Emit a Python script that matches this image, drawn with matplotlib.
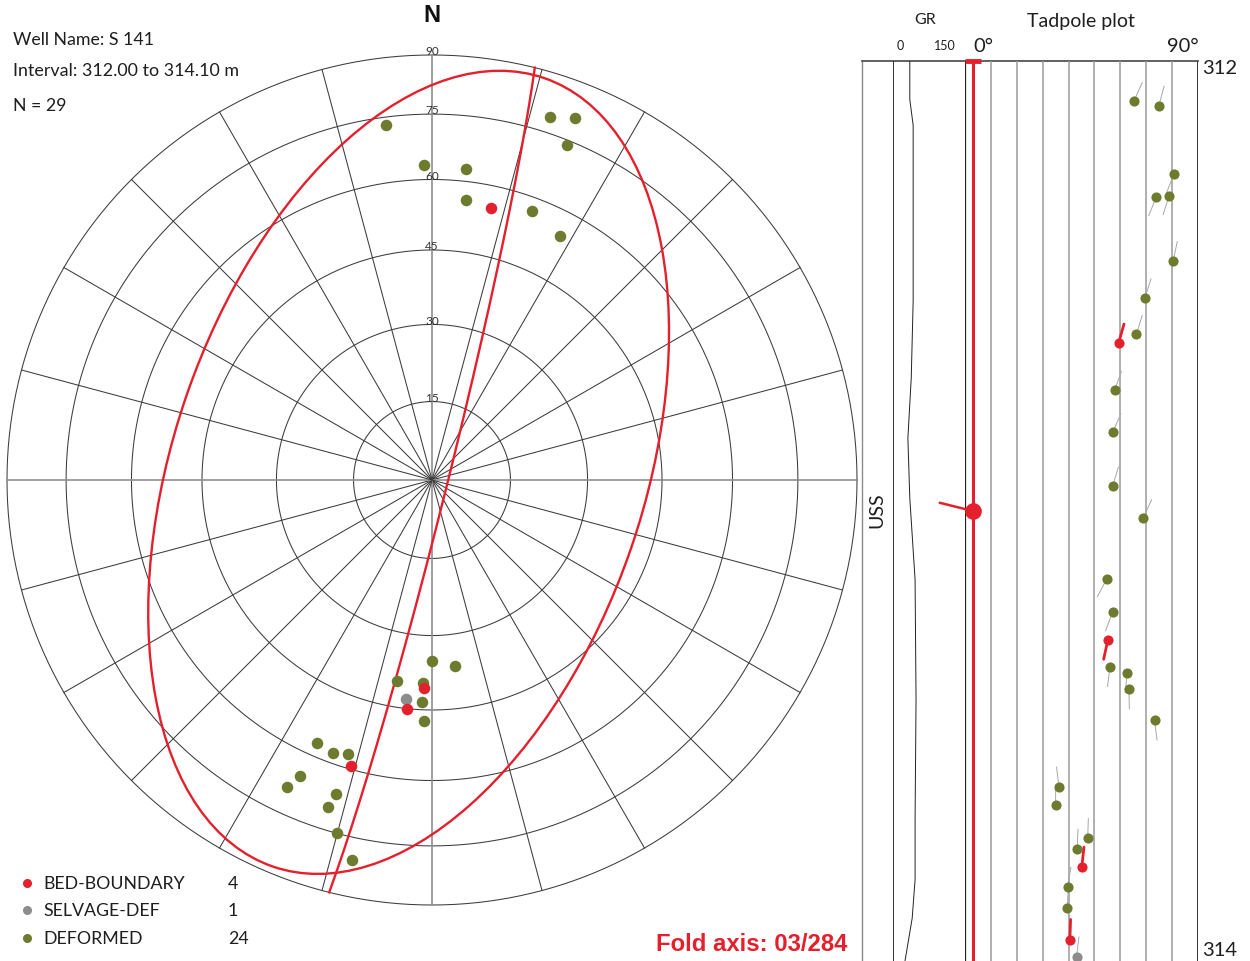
import numpy as np
import matplotlib
matplotlib.use("Agg")
import matplotlib.pyplot as plt
from matplotlib.patches import Ellipse

# ---------------- data ----------------
well_name = "S 141"
interval_top = 312.00
interval_base = 314.10
fold_plunge = 3
fold_trend = 284

feature_types = ["BED-BOUNDARY", "SELVAGE-DEF", "DEFORMED"]

# measured depth (m), dip (deg), dip azimuth (deg), feature type index
depth = [312.093, 312.104, 312.264, 312.314, 312.317, 312.467, 312.553, 312.638,
         312.659, 312.768, 312.866, 312.992, 313.066, 313.209, 313.286, 313.350,
         313.413, 313.427, 313.465, 313.538, 313.694, 313.736, 313.814, 313.839,
         313.881, 313.927, 313.977, 314.050, 314.090]
dip = [65.3, 74.9, 80.7, 78.9, 73.9, 80.4, 69.5, 66.2,
       59.3, 57.8, 57.1, 57.0, 68.8, 54.7, 57.0, 55.2,
       56.0, 62.7, 63.3, 73.2, 36.3, 35.0, 47.4, 43.3,
       45.1, 39.6, 39.5, 40.5, 43.1]
dip_azimuth = [24.0, 15.0, 201.5, 198.0, 201.9, 11.9, 17.6, 17.0,
               15.8, 19.9, 23.6, 17.0, 25.2, 207.7, 200.4, 192.2,
               186.9, 186.2, 178.6, 172.7, 353.0, 0.0, 1.8, 2.6,
               6.3, 9.8, 2.6, 2.1, 6.8]
feature = [2, 2, 2, 2, 2, 2, 2, 2,
           0, 2, 2, 2, 2, 2, 2, 0,
           2, 2, 2, 2, 2, 2, 2, 2,
           0, 2, 2, 0, 1]

# gamma-ray log (API) read along the track
gr_depth = [312.00, 312.09, 312.15, 312.32, 312.56, 312.74, 312.88, 313.02,
            313.21, 313.49, 313.77, 313.91, 314.00, 314.10]
gr_value = [35, 35, 42, 42, 42, 38, 31, 35, 46, 48, 46, 46, 40, 25]

# cone/ellipse drawn on the net (projected net units)
ellipse_center = (-0.055, 0.018)
ellipse_semi_axes = (0.981, 0.553)
ellipse_angle = 71.0

# ---------------- style ----------------
RED = "#e3202c"
GREEN = "#6c7b2d"
GREY = "#8c8c8c"
type_colors = [RED, GREY, GREEN]
TXT = "#1e1e1e"
FONT = ["Lato", "DejaVu Sans"]
BOLD = ["Liberation Sans", "DejaVu Sans"]

W, H = 1250, 962
fig = plt.figure(figsize=(W / 100, H / 100), dpi=100)
fig.patch.set_facecolor("white")


def box(x0, y0, x1, y1):
    return [x0 / W, 1 - y1 / H, (x1 - x0) / W, (y1 - y0) / H]


def ftext(x, y, s, **kw):
    kw.setdefault("family", FONT)
    kw.setdefault("color", TXT)
    kw.setdefault("va", "center")
    fig.text(x / W, 1 - y / H, s, **kw)


def ea_r(d):
    return np.sqrt(2) * np.sin(np.radians(np.asarray(d, float)) / 2)


depth = np.array(depth)
dip = np.array(dip)
dip_azimuth = np.array(dip_azimuth)
feature = np.array(feature)

# ---------------- stereonet ----------------
cx, cy, R = 432, 481, 425
pad = 1.08
ax = fig.add_axes(box(cx - R * pad, cy - R * pad, cx + R * pad, cy + R * pad))
ax.set_xlim(-pad, pad)
ax.set_ylim(-pad, pad)
ax.axis("off")

th = np.linspace(0, 2 * np.pi, 721)
for d in range(15, 91, 15):
    r = ea_r(d)
    ax.plot(r * np.cos(th), r * np.sin(th), color="#3c3c3c", lw=0.75, zorder=1)
for az in range(0, 360, 15):
    a = np.radians(az)
    if az % 90 == 0:
        ax.plot([0, np.sin(a)], [0, np.cos(a)], color="#8f8f8f", lw=1.2, zorder=1)
    else:
        ax.plot([0, np.sin(a)], [0, np.cos(a)], color="#3c3c3c", lw=0.75, zorder=1)
for d in range(15, 91, 15):
    ax.text(0, ea_r(d) + 0.002, str(d), ha="center", va="baseline", fontsize=8.5,
            color="#333333", family=FONT, zorder=2)

# profile plane (great circle normal to fold axis)
dd = np.radians(fold_trend - 180)
dp = np.radians(90 - fold_plunge)
s = dd - np.pi / 2
t = np.linspace(0, np.pi, 400)
sv = np.array([np.sin(s), np.cos(s), 0.0])
dv = np.array([np.cos(dp) * np.sin(dd), np.cos(dp) * np.cos(dd), np.sin(dp)])
v = np.outer(np.cos(t), sv) + np.outer(np.sin(t), dv)
gx = v[:, 0] / np.sqrt(1 + v[:, 2])
gy = v[:, 1] / np.sqrt(1 + v[:, 2])
ax.plot(gx, gy, color=RED, lw=1.7, zorder=3)

ax.add_patch(Ellipse(ellipse_center, 2 * ellipse_semi_axes[0], 2 * ellipse_semi_axes[1],
                     angle=ellipse_angle, fill=False, ec=RED, lw=1.7, zorder=3))

# poles (lower hemisphere, equal area)
ptrend = np.radians(dip_azimuth + 180)
pr = ea_r(dip)
px = pr * np.sin(ptrend)
py = pr * np.cos(ptrend)
for k in [2, 1, 0]:
    m = feature == k
    ax.plot(px[m], py[m], "o", ms=8.3, color=type_colors[k], mec="none", zorder=4 + (2 - k))

# ---------------- header texts ----------------
ftext(432, 15, "N", ha="center", fontsize=17, fontweight="bold", family=BOLD, color="#111111")
ftext(13, 40, f"Well Name: {well_name}", ha="left", fontsize=12.8)
ftext(13, 71, f"Interval: {interval_top:.2f} to {interval_base:.2f} m", ha="left", fontsize=12.9)
ftext(13, 106, f"N = {len(depth)}", ha="left", fontsize=12.8)

# legend
ov = fig.add_axes([0, 0, 1, 1])
ov.set_xlim(0, W)
ov.set_ylim(H, 0)
ov.axis("off")
leg_y = [884, 911, 939]
for k, name in enumerate(feature_types):
    ov.plot(27, leg_y[k], "o", ms=6.5, color=type_colors[k], mec="none")
    ftext(43, leg_y[k], name, ha="left", fontsize=12.8)
    ftext(228, leg_y[k], str(int((feature == k).sum())), ha="left", fontsize=12.8)

ftext(752, 945, f"Fold axis: {fold_plunge:02d}/{fold_trend}", ha="center", fontsize=17.2,
      fontweight="bold", family=BOLD, color=RED)

# ---------------- log tracks ----------------
top_px, bot_px = 62, 962
ov.plot([862, 862], [top_px, bot_px], color="#8a8a8a", lw=1.0)
ov.plot([862, 1198], [top_px, top_px], color="#555555", lw=1.3)

# GR track
gr = fig.add_axes(box(893, top_px, 965, bot_px))
gr.set_xlim(0, 150)
gr.set_ylim(interval_base, interval_top)
gr.axis("off")
gr.axvline(0, color="#222222", lw=1.3)
gr.plot(gr_value, gr_depth, color="#222222", lw=0.7)

# tadpole track
tp = fig.add_axes(box(965, top_px, 1198, bot_px))
tp.set_xlim(0, 90)
tp.set_ylim(interval_base, interval_top)
tp.axis("off")
for d in range(10, 90, 10):
    tp.axvline(d, color="#9a9a9a", lw=1.1, zorder=1)
tp.axvline(0, color="#222222", lw=1.6, zorder=1)
tp.axvline(90, color="#333333", lw=1.4, zorder=1)

# fold axis line and symbol
tp.axvline(fold_plunge, color=RED, lw=2.2, zorder=2)
tp.plot([0, 6], [interval_top, interval_top], color=RED, lw=3.5, solid_capstyle="butt",
        clip_on=False, zorder=3)
mid = (interval_top + interval_base) / 2
fa = np.radians(fold_trend)
tp.annotate("", xy=(fold_plunge, mid), xytext=(24.5 * np.sin(fa), 24.5 * np.cos(fa)),
            textcoords="offset points",
            arrowprops=dict(arrowstyle="-", color=RED, lw=1.8, shrinkA=0, shrinkB=0), zorder=3)
tp.plot(fold_plunge, mid, "o", ms=12, color=RED, mec="none", zorder=4)

L = 14.5
for i in range(len(depth)):
    k = feature[i]
    a = np.radians(dip_azimuth[i])
    if k == 0:
        tc, tlw = RED, 2.0
    else:
        tc, tlw = "#a8a8a8", 0.7
    tp.annotate("", xy=(dip[i], depth[i]), xytext=(L * np.sin(a), L * np.cos(a)),
                textcoords="offset points",
                arrowprops=dict(arrowstyle="-", color=tc, lw=tlw, shrinkA=0, shrinkB=0),
                zorder=3)
    tp.plot(dip[i], depth[i], "o", ms=7.3, color=type_colors[k], mec="none", zorder=5,
            clip_on=False)

# track headers
ftext(925, 20, "GR", ha="center", fontsize=11.5)
ftext(1081, 22, "Tadpole plot", ha="center", fontsize=14)
ftext(900, 46, "0", ha="center", fontsize=9)
ftext(945, 46, "150", ha="center", fontsize=9)
ftext(983, 47, "0°", ha="center", fontsize=14.5)
ftext(1183, 47, "90°", ha="center", fontsize=14.5)
ftext(1220, 68, f"{interval_top:.0f}", ha="center", fontsize=14.5)
ftext(1220, 951, f"{np.floor(interval_base):.0f}", ha="center", fontsize=14.5)
ftext(877, 510, "USS", ha="center", fontsize=14, rotation=90)

fig.savefig("out.png", dpi=100, facecolor="white")
